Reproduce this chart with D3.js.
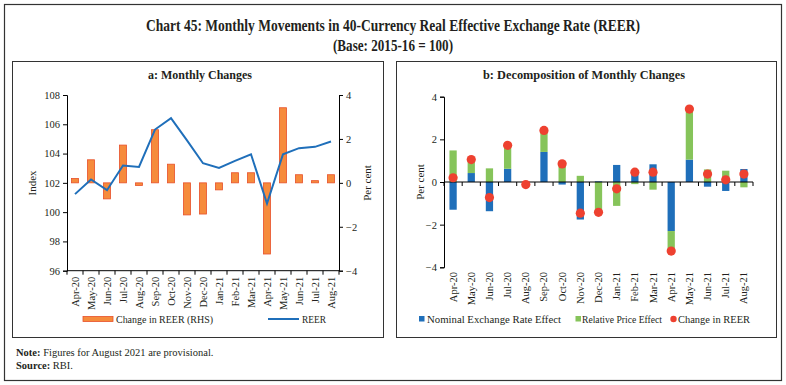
<!DOCTYPE html>
<html><head><meta charset="utf-8">
<script src="https://cdn.jsdelivr.net/npm/d3@7/dist/d3.min.js"></script>
<style>
body{margin:0;background:#fff;}
svg text{font-family:"Liberation Serif","DejaVu Serif",serif;fill:#231f20;}
</style></head>
<body><svg id="c" width="786" height="385"></svg>
<script>
const months = ["Apr-20","May-20","Jun-20","Jul-20","Aug-20","Sep-20","Oct-20","Nov-20","Dec-20","Jan-21","Feb-21","Mar-21","Apr-21","May-21","Jun-21","Jul-21","Aug-21"];
const reerIndex = [101.23,102.23,101.5,103.18,103.09,105.64,106.42,104.9,103.34,103.02,103.5,103.95,100.59,103.95,104.37,104.46,104.82];
const reerChange = [0.2,1.05,-0.73,1.72,-0.12,2.42,0.85,-1.46,-1.42,-0.32,0.46,0.46,-3.24,3.42,0.37,0.1,0.37];
const nominalEffect = [-1.3,0.42,-1.37,0.62,-0.08,1.41,-0.12,-1.76,0.03,0.8,0.56,0.83,-2.3,1.05,-0.22,-0.42,0.61];
const priceEffect = [1.48,0.62,0.64,1.1,-0.04,1.01,0.96,0.29,-1.45,-1.12,-0.1,-0.36,-0.94,2.36,0.59,0.53,-0.25];
const indexTicks = [96,98,100,102,104,106,108];
const pctTicks = [-4,-2,0,2,4];

const svg = d3.select("#c");
const ORANGE="#f68b3c", ORANGE_S="#e8502a", BLUE="#1f6fba", GREEN="#86c45a", RED="#ee4130";

// frames
svg.append("rect").attr("x",4.5).attr("y",4.5).attr("width",777).attr("height",376).attr("fill","none").attr("stroke","#333").attr("stroke-width",1.2);
svg.append("rect").attr("x",12.5).attr("y",61.5).attr("width",371).attr("height",276).attr("fill","none").attr("stroke","#333").attr("stroke-width",1);
svg.append("rect").attr("x",396.5).attr("y",61.5).attr("width",380).attr("height",276).attr("fill","none").attr("stroke","#333").attr("stroke-width",1);

function fitText(sel, w){ sel.attr("textLength",w).attr("lengthAdjust","spacingAndGlyphs"); }
svg.append("text").attr("x",393).attr("y",31).attr("text-anchor","middle").attr("font-size",16).attr("font-weight","bold")
  .text("Chart 45: Monthly Movements in 40-Currency Real Effective Exchange Rate (REER)").call(fitText,494);
svg.append("text").attr("x",393).attr("y",51).attr("text-anchor","middle").attr("font-size",16).attr("font-weight","bold")
  .text("(Base: 2015-16 = 100)").call(fitText,120);

svg.append("text").attr("x",200).attr("y",79).attr("text-anchor","middle").attr("font-size",11.5).attr("font-weight","bold").text("a: Monthly Changes").call(fitText,104);
svg.append("text").attr("x",584).attr("y",79).attr("text-anchor","middle").attr("font-size",11.5).attr("font-weight","bold").text("b: Decomposition of Monthly Changes").call(fitText,202);

function styleAxis(g){ g.selectAll("path,line").attr("stroke","#000").attr("stroke-width",1); g.selectAll("text").attr("font-size",10.5).attr("font-family","Liberation Serif, serif").attr("fill","#231f20"); }

// ---------- Panel a ----------
const xa = d3.scaleBand().domain(months).range([67,339]).paddingInner(0.56).paddingOuter(0.28);
const yL = d3.scaleLinear().domain([96,108]).range([270.7,95]);
const yR = d3.scaleLinear().domain([-4,4]).range([270.7,95]);

svg.append("g").selectAll("rect").data(months).join("rect")
  .attr("x",d=>xa(d)).attr("width",xa.bandwidth())
  .attr("y",(d,i)=>yR(Math.max(0,reerChange[i]))).attr("height",(d,i)=>Math.abs(yR(reerChange[i])-yR(0)))
  .attr("fill",ORANGE).attr("stroke",ORANGE_S).attr("stroke-width",0.8);

const line = d3.line().x((d,i)=>xa(months[i])+xa.bandwidth()/2).y(d=>yL(d));
svg.append("path").datum(reerIndex).attr("d",line).attr("fill","none").attr("stroke",BLUE).attr("stroke-width",2);

svg.append("g").attr("transform","translate(67,0)").call(d3.axisLeft(yL).tickValues(indexTicks).tickSize(4).tickPadding(3)).call(styleAxis);
svg.append("g").attr("transform","translate(339,0)").call(d3.axisRight(yR).tickValues(pctTicks).tickSize(4).tickPadding(3).tickFormat(d3.format("d"))).call(styleAxis);
const gxa = svg.append("g").attr("transform","translate(0,270.7)");
gxa.append("line").attr("x1",67).attr("x2",339).attr("stroke","#000");
gxa.selectAll("line.t").data(d3.range(months.length+1)).join("line").attr("class","t")
  .attr("x1",i=>67+i*(272/months.length)).attr("x2",i=>67+i*(272/months.length)).attr("y1",0).attr("y2",4).attr("stroke","#000");
gxa.selectAll("text").data(months).join("text").attr("font-size",10.5)
  .attr("transform",d=>`translate(${xa(d)+xa.bandwidth()/2+3.5},6) rotate(-90)`).attr("text-anchor","end").text(d=>d);

svg.append("text").attr("transform","translate(36,183) rotate(-90)").attr("text-anchor","middle").attr("font-size",11).text("Index");
svg.append("text").attr("transform","translate(371,183) rotate(-90)").attr("text-anchor","middle").attr("font-size",11).text("Per cent");

// legend a
svg.append("rect").attr("x",83).attr("y",316.5).attr("width",30).attr("height",5).attr("fill",ORANGE).attr("stroke",ORANGE_S).attr("stroke-width",0.8);
svg.append("text").attr("x",116).attr("y",323).attr("font-size",10.5).text("Change in REER (RHS)").call(fitText,97);
svg.append("line").attr("x1",268).attr("x2",299).attr("y1",319).attr("y2",319).attr("stroke",BLUE).attr("stroke-width",2);
svg.append("text").attr("x",302).attr("y",323).attr("font-size",10.5).text("REER").call(fitText,24);

// ---------- Panel b ----------
const xb = d3.scaleBand().domain(months).range([444,753]).paddingInner(0.6).paddingOuter(0.3);
const yb = d3.scaleLinear().domain([-4,4]).range([267.3,96.7]);
const rows = months.map((m,i)=>({m, nominal:nominalEffect[i], price:priceEffect[i]}));
const stack = d3.stack().keys(["nominal","price"]).offset(d3.stackOffsetDiverging)(rows);
const colors = {nominal:BLUE, price:GREEN};
svg.append("g").selectAll("g").data(stack).join("g").attr("fill",d=>colors[d.key])
  .selectAll("rect").data(d=>d).join("rect")
  .attr("x",d=>xb(d.data.m)).attr("width",xb.bandwidth())
  .attr("y",d=>yb(Math.max(d[0],d[1]))).attr("height",d=>Math.abs(yb(d[0])-yb(d[1])));

svg.append("g").attr("transform","translate(444,0)").call(d3.axisLeft(yb).tickValues(pctTicks).tickSize(4).tickPadding(3).tickFormat(d3.format("d"))).call(styleAxis);
const gxb = svg.append("g").attr("transform",`translate(0,${yb(0)})`);
gxb.append("line").attr("x1",444).attr("x2",753).attr("stroke","#000");
gxb.selectAll("line.t").data(d3.range(months.length+1)).join("line").attr("class","t")
  .attr("x1",i=>444+i*(309/months.length)).attr("x2",i=>444+i*(309/months.length)).attr("y1",0).attr("y2",4).attr("stroke","#000");
svg.append("g").selectAll("text").data(months).join("text").attr("font-size",10.5)
  .attr("transform",d=>`translate(${xb(d)+xb.bandwidth()/2+3.5},272) rotate(-90)`).attr("text-anchor","end").text(d=>d);

svg.append("g").selectAll("circle").data(reerChange).join("circle")
  .attr("cx",(d,i)=>xb(months[i])+xb.bandwidth()/2).attr("cy",d=>yb(d)).attr("r",4.6).attr("fill",RED);

svg.append("text").attr("transform","translate(424,182) rotate(-90)").attr("text-anchor","middle").attr("font-size",11).text("Per cent");

// legend b
const lg = svg.append("g");
lg.append("rect").attr("x",419).attr("y",316).attr("width",5.5).attr("height",5.5).attr("fill",BLUE);
lg.append("text").attr("x",427).attr("y",323).attr("font-size",10.5).text("Nominal Exchange Rate Effect").call(fitText,134);
lg.append("rect").attr("x",575.5).attr("y",316).attr("width",5.5).attr("height",5.5).attr("fill",GREEN);
lg.append("text").attr("x",582).attr("y",323).attr("font-size",10.5).text("Relative Price Effect").call(fitText,80);
lg.append("circle").attr("cx",673.5).attr("cy",319).attr("r",3.2).attr("fill",RED);
lg.append("text").attr("x",678).attr("y",323).attr("font-size",10.5).text("Change in REER").call(fitText,72);

// notes
const n1 = svg.append("text").attr("x",16).attr("y",356).attr("font-size",10.5);
n1.append("tspan").attr("font-weight","bold").text("Note: ");
n1.append("tspan").text("Figures for August 2021 are provisional.");
const n2 = svg.append("text").attr("x",16).attr("y",369).attr("font-size",10.5);
n2.append("tspan").attr("font-weight","bold").text("Source: ");
n2.append("tspan").text("RBI.");
</script></body></html>
